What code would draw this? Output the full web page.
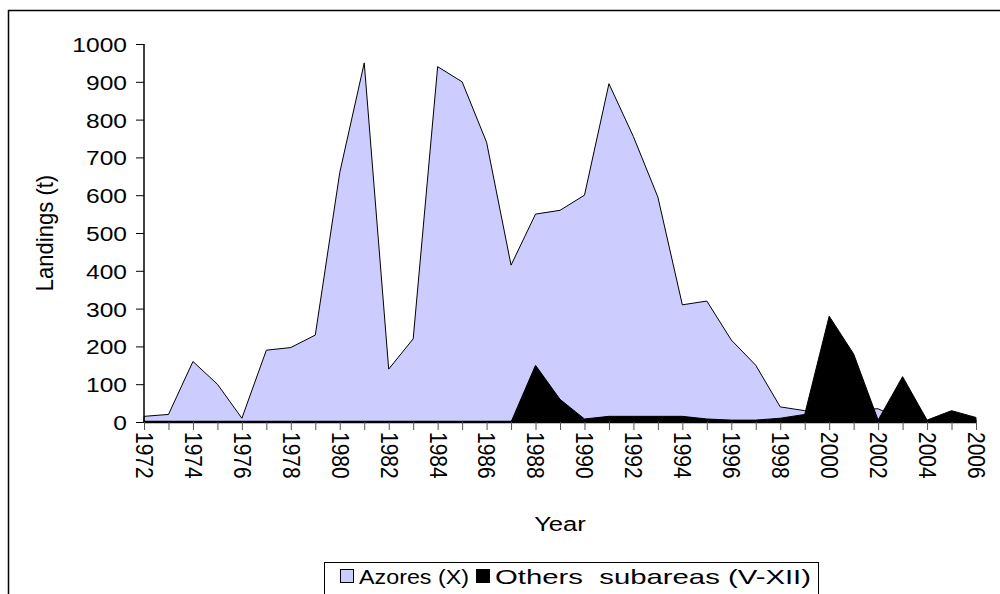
<!DOCTYPE html>
<html>
<head>
<meta charset="utf-8">
<script src="https://cdn.jsdelivr.net/npm/d3@7"></script>
<style>
  body { margin: 0; background: #fff; }
  text { font-family: "Liberation Sans", Arial, sans-serif; fill: #000; }
</style>
</head>
<body>
<div id="chart"></div>
<script>
// Data
const years = d3.range(1972, 2007);
const azores = [15, 20, 160, 100, 10, 190, 197, 230, 660, 950, 140, 220, 940, 900, 740, 415, 550, 560, 600, 895, 755, 595, 310, 320, 217, 150, 40, 30, 30, 33, 35, 5, 3, 5, 5];
const others = [0, 0, 0, 0, 0, 0, 0, 0, 0, 0, 0, 0, 0, 0, 0, 0, 150, 60, 8, 15, 15, 15, 15, 8, 5, 5, 10, 20, 280, 180, 5, 120, 5, 30, 12];
const yTicks = d3.range(0, 1001, 100);
const seriesNames = ["Azores (X)", "Others  subareas (V-XII)"];
const seriesColors = ["#ccccff", "#000000"];

const dimensions = {
  width: 1000,
  height: 594,
  left: 144,
  right: 976,
  top: 44,
  bottom: 422,
};
const fontSize = "21px";
const stretch = 1.17; // text in the original is a bit wide

const svg = d3
  .select("#chart")
  .append("svg")
  .attr("width", dimensions.width)
  .attr("height", dimensions.height);

// outer frame
svg
  .append("rect")
  .attr("x", 8.5)
  .attr("y", 10.5)
  .attr("width", 1100)
  .attr("height", 700)
  .attr("fill", "none")
  .attr("stroke", "#000")
  .attr("stroke-width", 1.5);

// Scales
const xScale = d3
  .scaleLinear()
  .domain([1972, 2006])
  .range([dimensions.left, dimensions.right]);

const yScale = d3
  .scaleLinear()
  .domain([0, 1000])
  .range([dimensions.bottom, dimensions.top]);

const area = (values) =>
  d3
    .area()
    .x((d, i) => xScale(years[i]))
    .y0(yScale(0))
    .y1((d) => yScale(d))(values);

// Areas
svg
  .append("path")
  .attr("d", area(azores))
  .attr("fill", seriesColors[0])
  .attr("stroke", "#000")
  .attr("stroke-width", 1);

svg
  .append("path")
  .attr("d", area(others))
  .attr("fill", seriesColors[1])
  .attr("stroke", "#000")
  .attr("stroke-width", 1);

// Axes
const yAxis = d3
  .axisLeft(yScale)
  .tickValues(yTicks)
  .tickSize(8)
  .tickFormat(d3.format("d"));

const yAxisG = svg
  .append("g")
  .attr("transform", `translate(${dimensions.left}, 0)`)
  .call(yAxis);
yAxisG.select(".domain").attr("stroke", "#000").attr("stroke-width", 1.5).attr("d", `M0,${dimensions.top}V${dimensions.bottom}`);
yAxisG.selectAll(".tick line").attr("stroke", "#000");
yAxisG
  .selectAll("text")
  .style("font-size", fontSize)
  .attr("font-family", null)
  .attr("x", 0)
  .attr("dy", "0.36em")
  .attr("transform", `translate(-17, 0) scale(${stretch}, 1)`);

const xAxis = d3
  .axisBottom(xScale)
  .tickValues(years)
  .tickSize(8)
  .tickFormat((d) => ((d - 1972) % 2 === 0 ? d : ""));

const xAxisG = svg
  .append("g")
  .attr("transform", `translate(0, ${dimensions.bottom})`)
  .call(xAxis);
xAxisG.select(".domain").attr("stroke", "#000").attr("stroke-width", 2.5).attr("d", `M${dimensions.left},0H${dimensions.right}`);
xAxisG.selectAll(".tick line").attr("stroke", "#555");
xAxisG
  .selectAll("text")
  .style("font-size", fontSize)
  .attr("font-family", null)
  .attr("dy", null)
  .attr("y", 0)
  .attr("text-anchor", "start")
  .attr("dominant-baseline", "central")
  .attr("transform", `translate(0, 10) rotate(90) scale(1, ${stretch})`);

// Axis titles
svg
  .append("text")
  .attr("transform", `translate(45, ${(dimensions.top + dimensions.bottom) / 2}) rotate(-90) scale(1.05, ${stretch})`)
  .attr("text-anchor", "middle")
  .attr("dominant-baseline", "central")
  .style("font-size", fontSize)
  .text("Landings (t)");

svg
  .append("text")
  .attr("transform", `translate(560, 531) scale(${stretch + 0.05}, 1)`)
  .attr("text-anchor", "middle")
  .style("font-size", fontSize)
  .text("Year");

// Legend
const legend = svg.append("g").attr("transform", "translate(324, 562)");
legend
  .append("rect")
  .attr("x", 0.5)
  .attr("y", 0.5)
  .attr("width", 494)
  .attr("height", 60)
  .attr("fill", "#fff")
  .attr("stroke", "#000");

const legendX = [16, 152];
const legendLen = [110, 316];
seriesNames.forEach((name, i) => {
  const g = legend.append("g").attr("transform", `translate(${legendX[i]}, 0)`);
  g.append("rect")
    .attr("x", 0.5)
    .attr("y", 7.5)
    .attr("width", 13)
    .attr("height", 13)
    .attr("fill", seriesColors[i])
    .attr("stroke", "#000");
  g.append("text")
    .attr("x", 19)
    .attr("y", 22)
    .style("font-size", fontSize)
    .style("white-space", "pre")
    .attr("xml:space", "preserve")
    .attr("textLength", legendLen[i])
    .attr("lengthAdjust", "spacingAndGlyphs")
    .text(name);
});
</script>
</body>
</html>
